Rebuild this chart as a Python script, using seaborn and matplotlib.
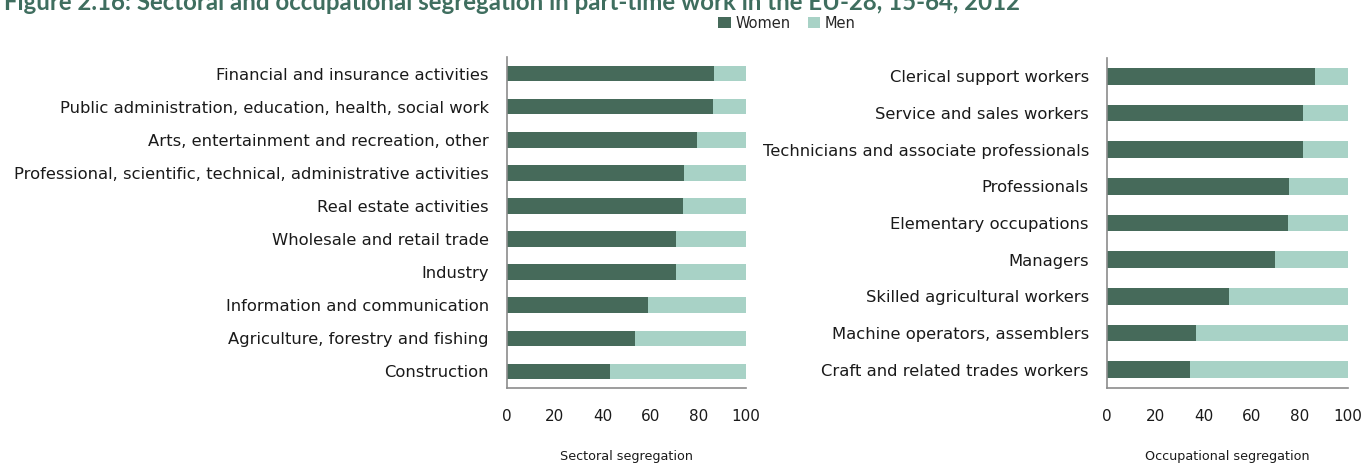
import matplotlib
matplotlib.use("Agg")
import matplotlib.pyplot as plt
import seaborn as sns
import pandas as pd
from matplotlib.patches import Patch

sns.set_style("white")
plt.rcParams['font.family'] = ['DejaVu Sans']

sector_labels = [
    "Financial and insurance activities",
    "Public administration, education, health, social work",
    "Arts, entertainment and recreation, other",
    "Professional, scientific, technical, administrative activities",
    "Real estate activities",
    "Wholesale and retail trade",
    "Industry",
    "Information and communication",
    "Agriculture, forestry and fishing",
    "Construction",
]
sector_women = [86.7, 86.0, 79.7, 74.0, 73.5, 70.8, 70.8, 58.8, 53.6, 43.3]
sector_men = [13.3, 14.0, 20.3, 26.0, 26.5, 29.2, 29.2, 41.2, 46.4, 56.7]

occ_labels = [
    "Clerical support workers",
    "Service and sales workers",
    "Technicians and associate professionals",
    "Professionals",
    "Elementary occupations",
    "Managers",
    "Skilled agricultural workers",
    "Machine operators, assemblers",
    "Craft and related trades workers",
]
occ_women = [86.3, 81.3, 81.3, 75.6, 74.9, 69.7, 50.8, 36.8, 34.3]
occ_men = [13.7, 18.7, 18.7, 24.4, 25.1, 30.3, 49.2, 63.2, 65.7]

tick_values = [0, 20, 40, 60, 80, 100]
x_titles = ["Sectoral segregation", "Occupational segregation"]
series_names = ["Women", "Men"]

DARK = "#466a5a"
LIGHT = "#a8d2c6"
GREY = "#8c8c8c"
TEXT = "#1a1a1a"

W, H = 1364, 465
fig = plt.figure(figsize=(W / 100, H / 100), dpi=100)

ax1 = fig.add_axes([507 / W, 1 - 388 / H, 239 / W, (388 - 57) / H])
ax2 = fig.add_axes([1107 / W, 1 - 388 / H, 241 / W, (388 - 58) / H])


def draw(ax, labels, women, men, bw, xtitle):
    df = pd.DataFrame({"cat": labels, "women": women,
                       "total": [w + m for w, m in zip(women, men)]})
    sns.barplot(data=df, y="cat", x="total", color=LIGHT, width=bw,
                ax=ax, orient="h", saturation=1, edgecolor="none")
    sns.barplot(data=df, y="cat", x="women", color=DARK, width=bw,
                ax=ax, orient="h", saturation=1, edgecolor="none")
    n = len(labels)
    ax.set_xlim(0, 100)
    ax.set_ylim(n - 0.5, -0.5)
    ax.set_xticks(tick_values)
    ax.set_xticklabels([str(t) for t in tick_values], fontsize=11, color=TEXT)
    ax.set_yticks(range(n))
    ax.set_yticklabels(labels, fontsize=11.8, color=TEXT)
    ax.set_yticks([i - 0.5 for i in range(n + 1)], minor=True)
    ax.tick_params(axis="y", which="major", length=0, pad=13)
    ax.tick_params(axis="y", which="minor", length=5, width=1, color=GREY, direction="out")
    ax.tick_params(axis="x", which="major", length=5, width=1, color=GREY,
                   direction="out", pad=10)
    for s in ["top", "right"]:
        ax.spines[s].set_visible(False)
    for s in ["left", "bottom"]:
        ax.spines[s].set_color(GREY)
        ax.spines[s].set_linewidth(1.2)
    ax.set_ylabel("")
    ax.set_xlabel(xtitle, fontsize=9.2, color=TEXT, labelpad=19)


draw(ax1, sector_labels, sector_women, sector_men, 0.47, x_titles[0])
draw(ax2, occ_labels, occ_women, occ_men, 0.45, x_titles[1])

fig.text(0.003, 1 - 10 / H,
         "Figure 2.16: Sectoral and occupational segregation in part-time work in the EU-28, 15-64, 2012",
         fontsize=17.3, fontweight="bold", color="#3f6e5f", va="baseline", ha="left",
         family=["Lato", "DejaVu Sans"])

handles = [Patch(facecolor=DARK, edgecolor="none", label=series_names[0]),
           Patch(facecolor=LIGHT, edgecolor="none", label=series_names[1])]
fig.legend(handles=handles, loc="center", bbox_to_anchor=(787 / W, 1 - 23 / H),
           ncol=2, frameon=False, fontsize=10.5, handlelength=0.85, handleheight=0.85,
           handletextpad=0.3, columnspacing=1.2, borderaxespad=0, borderpad=0)

fig.savefig("out.png", dpi=100)
